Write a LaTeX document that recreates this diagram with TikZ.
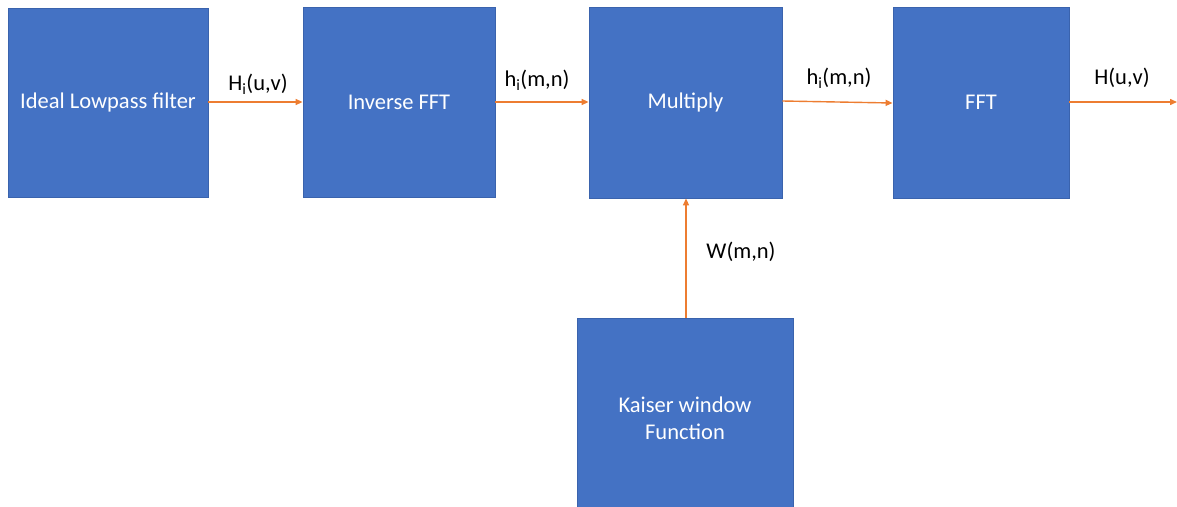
\documentclass[tikz,border=0pt]{standalone}
\usepackage{fontspec}
\setmainfont{Carlito}
\usetikzlibrary{arrows.meta}
\definecolor{boxblue}{HTML}{4472C4}
\definecolor{boxedge}{HTML}{3A63AD}
\definecolor{flow}{HTML}{ED7D31}
\begin{document}
\begin{tikzpicture}[x=1pt,y=-1pt,
  block/.style={draw=boxedge,line width=0.8pt,fill=boxblue,text=white,
    font=\fontsize{22.5}{27}\selectfont,align=center,inner sep=0pt},
  sig/.style={draw=flow,line width=1.4pt,-{Triangle[length=7pt,width=6pt]}},
  lbl/.style={font=\fontsize{22.5}{27}\selectfont,text=black,inner sep=0pt}]
\useasboundingbox (0,0) rectangle (1177,506);
% processing blocks
\node[block,minimum width=200pt,minimum height=189pt] (lp) at (108,102.5) {Ideal Lowpass filter};
\node[block,minimum width=192pt,minimum height=190pt] (ifft) at (399,102.5) {Inverse FFT};
\node[block,minimum width=193pt,minimum height=191pt] (mul) at (685.5,102.5) {Multiply};
\node[block,minimum width=176pt,minimum height=191pt] (fft) at (981,102.5) {FFT};
\node[block,minimum width=216pt,minimum height=200pt] (kw) at (685,418) {Kaiser window\\Function};
\coordinate (out) at (1177,102);
% signal connectors
\draw[sig] (lp.east |- 0,102) -- (ifft.west |- 0,102);
\draw[sig] (ifft.east |- 0,102) -- (mul.west |- 0,102);
\draw[sig] (mul.east |- 0,101) -- (fft.west |- 0,103);
\draw[sig] (fft.east |- 0,102) -- (out);
\draw[sig] (kw.north -| 686,0) -- (mul.south -| 686,0);
% signal labels
\node[lbl] (l1) at (258,84) {H\textsubscript{i}(u,v)};
\node[lbl] (l2) at (537,80) {h\textsubscript{i}(m,n)};
\node[lbl] (l3) at (839,78) {h\textsubscript{i}(m,n)};
\node[lbl] (l4) at (1122,78) {H(u,v)};
\node[lbl] (l5) at (741,252) {W(m,n)};
\end{tikzpicture}
\end{document}
